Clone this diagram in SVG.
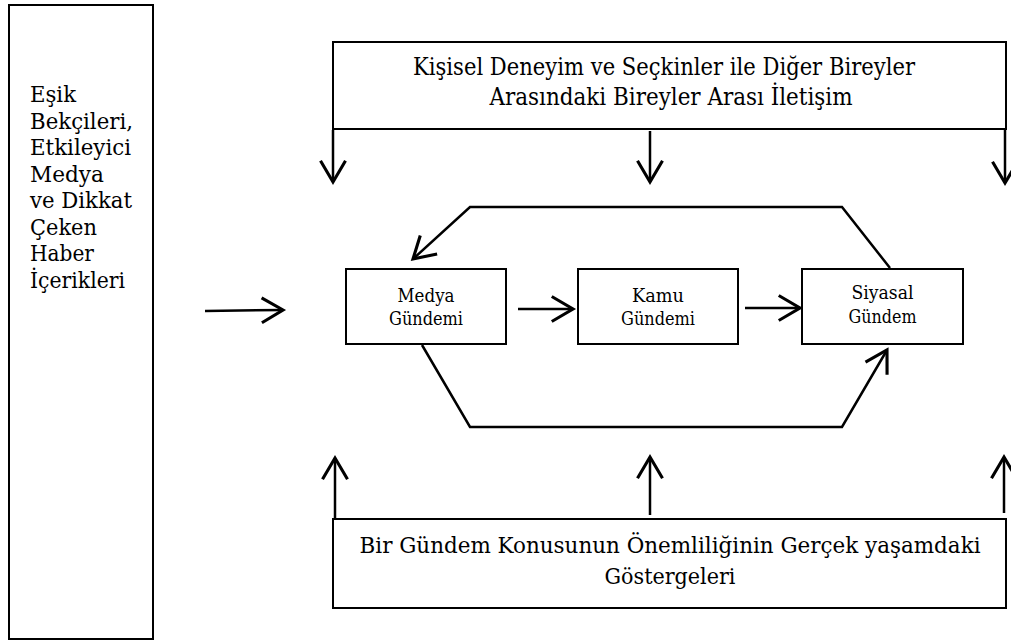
<svg xmlns="http://www.w3.org/2000/svg" width="1011" height="644" viewBox="0 0 1011 644">
<style>
.box{fill:#fff;stroke:#000;stroke-width:2}
.t{fill:#000;font-family:"DejaVu Serif","Liberation Serif",serif}
.c{text-anchor:middle}
.con{fill:none;stroke:#000;stroke-width:2.5;stroke-linejoin:miter}
</style>
<defs>
<marker id="arr" markerUnits="userSpaceOnUse" markerWidth="30" markerHeight="30" viewBox="-20 -12 24 24" refX="0" refY="0" orient="auto" overflow="visible">
<path d="M-17,-10 L0,0 L-17,10" fill="none" stroke="#000" stroke-width="2.5"/>
</marker>
</defs>
<rect width="1011" height="644" fill="#fff"/>
<g id="gatekeepers" font-size="23">
<rect class="box" x="9" y="5" width="144" height="634"/>
<text class="t" x="30" y="102" textLength="46" lengthAdjust="spacingAndGlyphs">Eşik</text>
<text class="t" x="30" y="128.5" textLength="103" lengthAdjust="spacingAndGlyphs">Bekçileri,</text>
<text class="t" x="30" y="155" textLength="101" lengthAdjust="spacingAndGlyphs">Etkileyici</text>
<text class="t" x="30" y="181.5" textLength="74" lengthAdjust="spacingAndGlyphs">Medya</text>
<text class="t" x="30" y="208" textLength="102" lengthAdjust="spacingAndGlyphs">ve Dikkat</text>
<text class="t" x="30" y="234.5" textLength="67" lengthAdjust="spacingAndGlyphs">Çeken</text>
<text class="t" x="30" y="261" textLength="64" lengthAdjust="spacingAndGlyphs">Haber</text>
<text class="t" x="30" y="287.5" textLength="95" lengthAdjust="spacingAndGlyphs">İçerikleri</text>
</g>
<g id="personal" font-size="23.5">
<rect class="box" x="333" y="42" width="673" height="87"/>
<text class="t c" x="664" y="75" textLength="502" lengthAdjust="spacingAndGlyphs">Kişisel Deneyim ve Seçkinler ile Diğer Bireyler</text>
<text class="t c" x="671" y="105" textLength="363" lengthAdjust="spacingAndGlyphs">Arasındaki Bireyler Arası İletişim</text>
</g>
<g id="media" font-size="18.5">
<rect class="box" x="346" y="269" width="160" height="75"/>
<text class="t c" x="426" y="302" textLength="57" lengthAdjust="spacingAndGlyphs">Medya</text>
<text class="t c" x="426" y="325" textLength="74" lengthAdjust="spacingAndGlyphs">Gündemi</text>
</g>
<g id="public" font-size="18.5">
<rect class="box" x="578" y="269" width="160" height="75"/>
<text class="t c" x="658" y="302" textLength="52" lengthAdjust="spacingAndGlyphs">Kamu</text>
<text class="t c" x="658" y="325" textLength="74" lengthAdjust="spacingAndGlyphs">Gündemi</text>
</g>
<g id="policy" font-size="18.5">
<rect class="box" x="802" y="269" width="161" height="75"/>
<text class="t c" x="882.5" y="299" textLength="62" lengthAdjust="spacingAndGlyphs">Siyasal</text>
<text class="t c" x="882.5" y="323" textLength="68" lengthAdjust="spacingAndGlyphs">Gündem</text>
</g>
<g id="realworld" font-size="22">
<rect class="box" x="333" y="519" width="673" height="89"/>
<text class="t c" x="670" y="553" textLength="621" lengthAdjust="spacingAndGlyphs">Bir Gündem Konusunun Önemliliğinin Gerçek yaşamdaki</text>
<text class="t c" x="670" y="584" textLength="131" lengthAdjust="spacingAndGlyphs">Göstergeleri</text>
</g>
<g id="connectors">
<path class="con" d="M205,311 L283,310" marker-end="url(#arr)"/>
<path class="con" d="M518,309 L573,309" marker-end="url(#arr)"/>
<path class="con" d="M745,308 L800,308" marker-end="url(#arr)"/>
<path class="con" d="M890,268 L842,207 L470,207 L413,259" marker-end="url(#arr)"/>
<path class="con" d="M422,345 L470,427 L842,427 L887,350" marker-end="url(#arr)"/>
<path class="con" d="M333,130 L333,182" marker-end="url(#arr)"/>
<path class="con" d="M650,131 L650,182" marker-end="url(#arr)"/>
<path class="con" d="M1005,130 L1005,183" marker-end="url(#arr)"/>
<path class="con" d="M335,518 L335,458" marker-end="url(#arr)"/>
<path class="con" d="M650,515 L650,457" marker-end="url(#arr)"/>
<path class="con" d="M1004,513 L1004,457" marker-end="url(#arr)"/>
</g>
</svg>
